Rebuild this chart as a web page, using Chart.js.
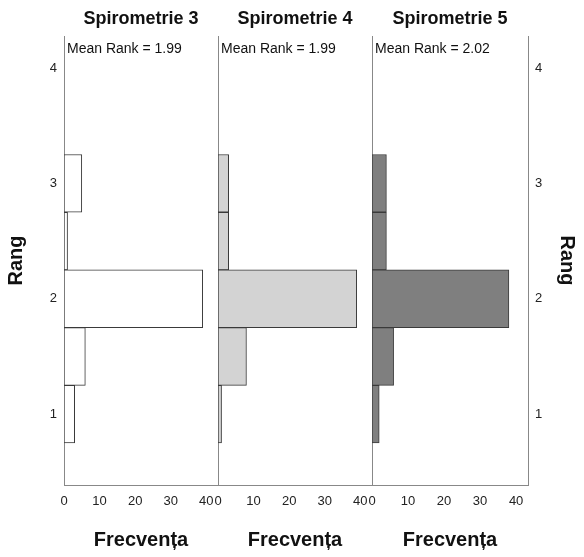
<!DOCTYPE html>
<html>
<head>
<meta charset="utf-8">
<script src="https://cdn.jsdelivr.net/npm/chart.js@4.4.1/dist/chart.umd.min.js"></script>
<style>
    html, body { margin: 0; padding: 0; background: #fff; }
    #grafic { position: relative; width: 584px; height: 557px; overflow: hidden; }
    #grafic canvas { position: absolute; top: 0; }
</style>
</head>
<body>
<div id="grafic">
    <canvas id="spiro3"></canvas>
    <canvas id="spiro4"></canvas>
    <canvas id="spiro5"></canvas>
</div>
<script>
// date
const titluri = ['Spirometrie 3', 'Spirometrie 4', 'Spirometrie 5'];
const ranguri = [3, 2.5, 2, 1.5, 1];
const frecvSpiro3 = [5, 1, 39, 6, 3];
const frecvSpiro4 = [3, 3, 39, 8, 1];
const frecvSpiro5 = [4, 4, 38, 6, 2];
const mediiRang = ['1.99', '1.99', '2.02'];
const tickuriRang = [1, 2, 3, 4];
const tickuriFrecv = [0, 10, 20, 30, 40];
const culori = ['#ffffff', '#d3d3d3', '#7f7f7f'];

Chart.defaults.font.family = '"Liberation Sans", Arial, sans-serif';
Chart.defaults.color = '#222';

const culoareAxa = '#888';

// textul "Mean Rank" in coltul din stanga sus al fiecarui panou
const textMedie = {
    id: 'textMedie',
    afterDraw(chart, args, opts) {
        const { ctx, chartArea } = chart;
        ctx.save();
        ctx.font = '14px "Liberation Sans", Arial, sans-serif';
        ctx.fillStyle = '#111';
        ctx.textBaseline = 'alphabetic';
        ctx.fillText(opts.text, chartArea.left + 3, chartArea.top + 17);
        ctx.restore();
    }
};

function scalaFrecv() {
    return {
        type: 'linear',
        min: 0,
        max: 43.3,
        afterBuildTicks: (s) => { s.ticks = tickuriFrecv.map(v => ({ value: v })); },
        afterFit: (s) => { s.height = 72; },
        grid: { display: false, drawTicks: false },
        border: { display: true, color: culoareAxa },
        ticks: { padding: 9, font: { size: 13 }, color: '#222' },
        title: {
            display: true,
            text: 'Frecvența',
            color: '#111',
            font: { size: 20, weight: 'bold' },
            padding: { top: 0, bottom: 5 }
        }
    };
}

function scalaRang(pozitie, latime, cuEtichete) {
    return {
        type: 'linear',
        position: pozitie,
        offset: false,
        min: 0.386,
        max: 4.277,
        afterBuildTicks: (s) => { s.ticks = tickuriRang.map(v => ({ value: v })); },
        afterFit: (s) => { s.width = latime; },
        grid: { display: false, drawTicks: false },
        border: { display: true, color: culoareAxa },
        ticks: { display: cuEtichete, padding: 7, font: { size: 13 }, color: '#222' },
        title: {
            display: cuEtichete,
            text: 'Rang',
            color: '#111',
            font: { size: 20, weight: 'bold' },
            padding: { top: pozitie === 'left' ? 4 : 5, bottom: 0 }
        }
    };
}

const panouri = [
    { id: 'spiro3', stanga: 0, latime: 238, frecv: frecvSpiro3, padding: { right: 20 },
      scales: { x: scalaFrecv(), y: scalaRang('left', 64, true) } },
    { id: 'spiro4', stanga: 200, latime: 192, frecv: frecvSpiro4, padding: { right: 20 },
      scales: { x: scalaFrecv(), y: scalaRang('left', 18, false) } },
    { id: 'spiro5', stanga: 354, latime: 230, frecv: frecvSpiro5, padding: { right: 0 },
      scales: { x: scalaFrecv(), y: scalaRang('left', 18, false), y2: scalaRang('right', 56, true) } }
];

panouri.forEach((p, i) => {
    const canvas = document.getElementById(p.id);
    canvas.width = p.latime;
    canvas.height = 557;
    canvas.style.left = p.stanga + 'px';
    canvas.style.width = p.latime + 'px';
    canvas.style.height = '557px';

    new Chart(canvas, {
        type: 'bar',
        data: {
            datasets: [{
                data: ranguri.map((r, k) => ({ x: p.frecv[k], y: r })),
                backgroundColor: culori[i],
                borderColor: '#3a3a3a',
                borderWidth: 1,
                borderSkipped: false,
                categoryPercentage: 1,
                barPercentage: 1
            }]
        },
        options: {
            indexAxis: 'y',
            responsive: false,
            animation: false,
            devicePixelRatio: 1,
            layout: { padding: p.padding },
            scales: p.scales,
            plugins: {
                legend: { display: false },
                tooltip: { enabled: false },
                title: {
                    display: true,
                    text: titluri[i],
                    fullSize: false,
                    color: '#111',
                    font: { size: 18, weight: 'bold' },
                    padding: { top: 8, bottom: 6.4 }
                },
                textMedie: { text: 'Mean Rank = ' + mediiRang[i] }
            }
        },
        plugins: [textMedie]
    });
});
</script>
</body>
</html>
